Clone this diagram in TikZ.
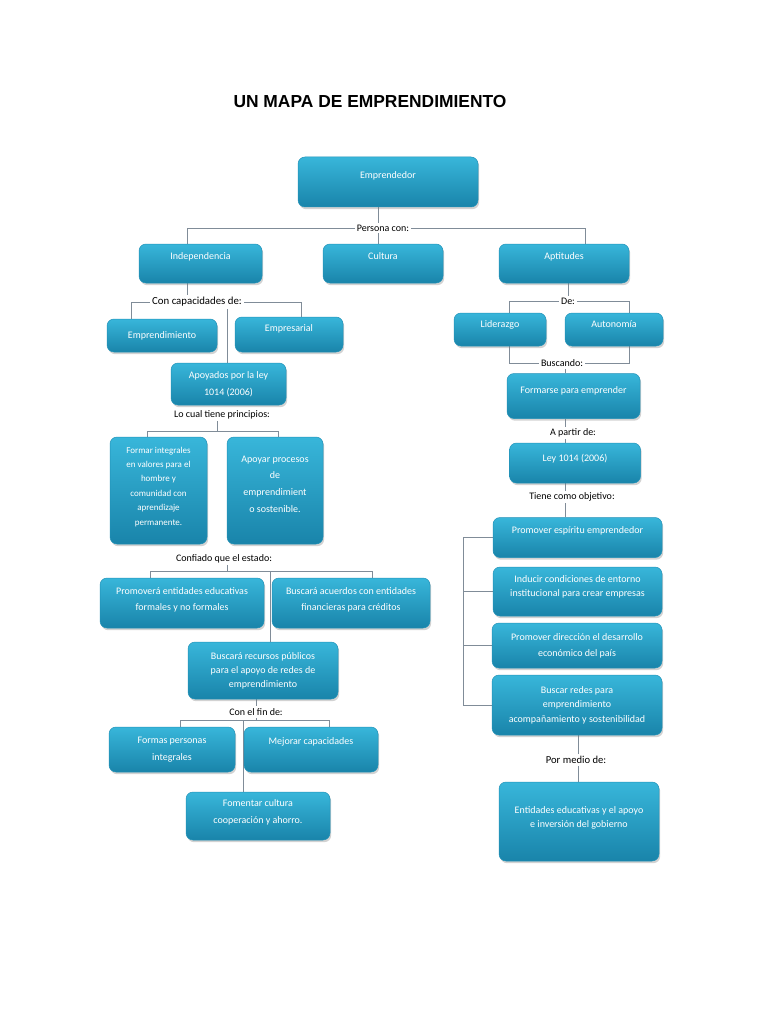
\documentclass[tikz,border=0pt]{standalone}
\usepackage{fontspec}
\setmainfont{Carlito}
\newfontfamily\titlefont{Liberation Sans}
\usetikzlibrary{shadows,backgrounds}
\definecolor{boxtop}{RGB}{56,182,218}
\definecolor{boxbot}{RGB}{25,132,170}
\definecolor{boxedge}{RGB}{34,146,184}
\definecolor{lncol}{RGB}{128,140,152}
\begin{document}
\begin{tikzpicture}[x=1pt,y=-1pt,
  box/.style={rounded corners=7pt, draw=boxedge, line width=.5pt, top color=boxtop, bottom color=boxbot,
    text=white, align=center, inner sep=2pt, font=\fontsize{10}{16.5}\selectfont,
    drop shadow={shadow xshift=1.2pt, shadow yshift=-2.2pt, opacity=.35}},
  lift/.style={text depth=#1},
  fs/.style 2 args={font=\fontsize{#1}{#2}\selectfont},
  lab/.style={fill=white, inner sep=2pt, text=black, font=\fontsize{10}{12}\selectfont},
  ln/.style={draw=lncol, line width=.8pt}]
\path[use as bounding box] (0,0) rectangle (768,1024);

\node[font=\titlefont\bfseries\fontsize{17.4}{20}\selectfont] (title) at (370,102) {UN MAPA DE EMPRENDIMIENTO};

% boxes
\node[box, minimum width=180, minimum height=50, lift=14pt] (emp) at (388,182) {Emprendedor};
\node[box, minimum width=123, minimum height=39, lift=15pt] (indep) at (200.5,263.5) {Independencia};
\node[box, minimum width=120, minimum height=39, lift=15pt] (cul) at (383,263.5) {Cultura};
\node[box, minimum width=130, minimum height=39, lift=15pt] (apt) at (564,263.5) {Aptitudes};
\node[box, minimum width=110, minimum height=33] (empr) at (162,335.5) {Emprendimiento};
\node[box, minimum width=108, minimum height=35, lift=13pt] (empre) at (289,334.5) {Empresarial};
\node[box, minimum width=115, minimum height=42] (apo) at (228.5,384) {Apoyados por la ley\\1014 (2006)};
\node[box, minimum width=97, minimum height=107, fs={9}{14.4}, lift=9pt] (fi) at (158.5,490.5)
  {Formar integrales\\en valores para el\\hombre y\\comunidad con\\aprendizaje\\permanente.};
\node[box, minimum width=96, minimum height=107, fs={10}{16.7}, lift=13pt] (ap) at (275,490.5)
  {Apoyar procesos\\de\\emprendimient\\o sostenible.};
\node[box, minimum width=164, minimum height=50, fs={10}{16}, lift=8pt] (prom) at (182,603)
  {Promoverá entidades educativas\\formales y no formales};
\node[box, minimum width=158, minimum height=50, fs={10}{16}, lift=8pt] (bac) at (351,603)
  {Buscará acuerdos con entidades\\financieras para créditos};
\node[box, minimum width=150, minimum height=57, fs={10}{14}] (brp) at (263,670.5)
  {Buscará recursos públicos\\para el apoyo de redes de\\emprendimiento};
\node[box, minimum width=126, minimum height=45, fs={10}{17}] (fpi) at (172,749.5) {Formas personas\\integrales};
\node[box, minimum width=134, minimum height=45, lift=17pt] (mc) at (311,749.5) {Mejorar capacidades};
\node[box, minimum width=144, minimum height=48, fs={10}{17}, lift=9pt] (fc) at (258,816)
  {Fomentar cultura\\cooperación y ahorro.};

\node[box, minimum width=92, minimum height=33, lift=11pt] (lid) at (500,329.5) {Liderazgo};
\node[box, minimum width=98, minimum height=33, lift=11pt] (aut) at (614,329.5) {Autonomía};
\node[box, minimum width=133, minimum height=45, lift=12pt] (form) at (573.5,396) {Formarse para emprender};
\node[box, minimum width=131, minimum height=40, lift=10pt] (ley) at (575,463) {Ley 1014 (2006)};
\node[box, minimum width=169, minimum height=40, lift=15pt] (pe) at (577.5,537.5) {Promover espíritu emprendedor};
\node[box, minimum width=169, minimum height=49, fs={10}{14}, lift=11pt] (induc) at (577.5,591.5)
  {Inducir condiciones de entorno\\institucional para crear empresas};
\node[box, minimum width=170, minimum height=45, fs={10}{16}] (pd) at (577,645.5)
  {Promover dirección el desarrollo\\económico del país};
\node[box, minimum width=170, minimum height=60, fs={10}{14.5}] (bu) at (577,705)
  {Buscar redes para\\emprendimiento\\acompañamiento y sostenibilidad};
\node[box, minimum width=160, minimum height=79, fs={10}{13.5}, lift=9pt] (ent) at (579,821.5)
  {Entidades educativas y el apoyo\\e inversión del gobierno};

% labels
\node[lab] (persona) at (383,228) {Persona con:};
\node[lab, fs={10.8}{13}] (capac) at (197,302) {Con capacidades de:};
\node[lab] (cual) at (222,415) {Lo cual tiene principios:};
\node[lab] (conf) at (224,559) {Confiado que el estado:};
\node[lab] (fin) at (256,712) {Con el fin de:};
\node[lab] (de) at (568,301) {De:};
\node[lab] (busc) at (562,363) {Buscando:};
\node[lab] (apartir) at (573,433) {A partir de:};
\node[lab] (tiene) at (572,497) {Tiene como objetivo:};
\node[lab, fs={10.6}{12}] (medio) at (576,760) {Por medio de:};

% junction coordinates
\coordinate (pl) at (187,228); \coordinate (pr) at (585,228); \coordinate (pm) at (378,228);
\coordinate (ca) at (187,302); \coordinate (cl) at (131,302); \coordinate (cr) at (301,302); \coordinate (cv) at (227,302);
\coordinate (lm) at (217,431); \coordinate (ll) at (147,431); \coordinate (lr) at (278,431);
\coordinate (cm) at (227,571); \coordinate (cl2) at (150,571); \coordinate (cr2) at (372,571); \coordinate (cv2) at (270,571);
\coordinate (fm) at (256,720); \coordinate (fl) at (180,720); \coordinate (fr) at (329,720); \coordinate (fv) at (243,720);
\coordinate (dm) at (568,301); \coordinate (dl) at (509,301); \coordinate (dr) at (629,301);
\coordinate (bl) at (509,363); \coordinate (br) at (629,363); \coordinate (bm) at (565,363);
\coordinate (am) at (565,0); \coordinate (bx) at (463,0); \coordinate (mm) at (578,0);

\begin{scope}[on background layer]
\fill[white] (0,0) rectangle (768,1024);
\draw[ln] (emp.south -| pm) -- (cul.north -| pm);
\draw[ln] (indep.north -| pl) -- (pl) -- (pr) -- (apt.north -| pr);
\draw[ln] (indep.south -| ca) -- (ca);
\draw[ln] (empr.north -| cl) -- (cl) -- (cr) -- (empre.north -| cr);
\draw[ln] (cv) -- (apo.north -| cv);
\draw[ln] (cual.south -| lm) -- (lm);
\draw[ln] (fi.north -| ll) -- (ll) -- (lr) -- (ap.north -| lr);
\draw[ln] (conf.south -| cm) -- (cm);
\draw[ln] (prom.north -| cl2) -- (cl2) -- (cr2) -- (bac.north -| cr2);
\draw[ln] (cv2) -- (brp.north -| cv2);
\draw[ln] (brp.south -| fm) -- (fm);
\draw[ln] (fpi.north -| fl) -- (fl) -- (fr) -- (mc.north -| fr);
\draw[ln] (fv) -- (fc.north -| fv);
\draw[ln] (apt.south -| dm) -- (dm);
\draw[ln] (lid.north -| dl) -- (dl) -- (dr) -- (aut.north -| dr);
\draw[ln] (lid.south -| bl) -- (bl) -- (br) -- (aut.south -| br);
\draw[ln] (bm) -- (form.north -| bm);
\draw[ln] (form.south -| am) -- (ley.north -| am);
\draw[ln] (ley.south -| am) -- (pe.north -| am);
\draw[ln] (pe.west) -- (pe.west -| bx) -- (bu.west -| bx) -- (bu.west);
\draw[ln] (induc.west) -- (induc.west -| bx);
\draw[ln] (pd.west) -- (pd.west -| bx);
\draw[ln] (bu.south -| mm) -- (ent.north -| mm);
\end{scope}
\end{tikzpicture}
\end{document}
